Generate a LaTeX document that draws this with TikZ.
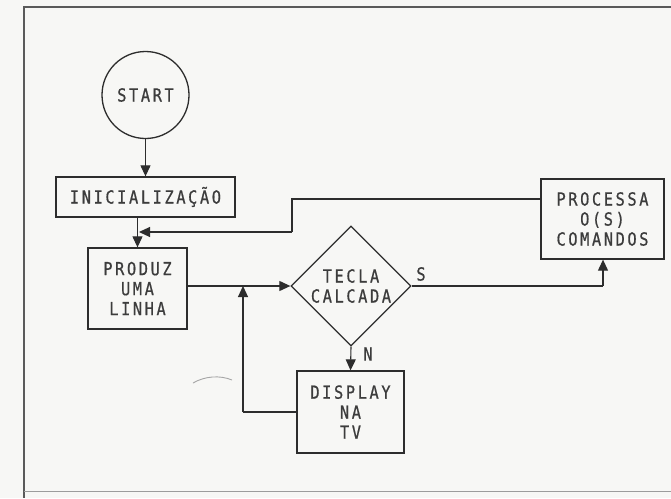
\documentclass[tikz,border=0pt]{standalone}
\usepackage{fontspec}
\setmainfont{DejaVu Sans Mono}[FakeStretch=0.85, LetterSpace=14.5, FakeBold=0.7]
\usetikzlibrary{shapes.geometric,arrows.meta}
\definecolor{bgc}{RGB}{247,247,245}
\definecolor{lc}{RGB}{45,45,45}
\definecolor{tc}{RGB}{60,60,60}
\definecolor{fc}{RGB}{90,90,90}
\tikzset{
  lbl/.style={font=\fontsize{18}{20}\selectfont, text=tc, inner sep=0pt, align=center},
  stepbox/.style={lbl, draw=lc, line width=1.3pt},
  arr/.style={draw=lc, line width=1.1pt, -{Triangle[length=11pt,width=10pt]}},
  plain/.style={draw=lc, line width=1.1pt},
}
\begin{document}
\begin{tikzpicture}[x=1pt,y=-1pt]
\useasboundingbox (0,0) rectangle (671,498);
\fill[bgc] (0,0) rectangle (671,498);
% frame
\draw[fc, line width=1.4pt] (671,7) -- (24,7) -- (24,498);
\draw[fc!60, line width=0.8pt] (24,491) -- (671,491);
% nodes
\node[stepbox, circle, minimum size=87pt] (start) at (145.5,95) {START};
\node[stepbox, minimum width=179pt, minimum height=40pt] (inic) at (145.5,197) {INICIALIZAÇÃO};
\node[stepbox, minimum width=99pt, minimum height=81pt] (produz) at (137.5,288.5) {PRODUZ\\UMA\\LINHA};
\node[stepbox, diamond, aspect=1, minimum width=120pt, minimum height=120pt] (dia) at (351,286) {TECLA\\CALCADA};
\node[stepbox, minimum width=123pt, minimum height=80pt] (proc) at (602.5,219) {PROCESSA\\O(S)\\COMANDOS};
\node[stepbox, minimum width=107pt, minimum height=82pt] (disp) at (350.5,412) {DISPLAY\\NA\\TV};
\node[lbl] (slbl) at (421,274) {S};
\node[lbl] (nlbl) at (368,354) {N};
% junction coordinates
\coordinate (jin) at (139,232);
\coordinate (rt) at (292,199);
\coordinate (rb) at (292,232);
\coordinate (jm) at (243,286);
\coordinate (dl) at (243,412);
\coordinate (pc) at (603,286);
% connectors
\draw[arr] (start) -- (inic);
\draw[arr] (inic.south -| produz.north) -- (produz.north);
\draw[plain] ([yshift=20pt]proc.west) -- (rt) -- (rb);
\draw[arr] (rb) -- (jin);
\draw[arr] (produz.east |- dia.west) -- (dia.west);
\draw[plain] (dia.east) -- (pc);
\draw[arr] (pc) -- (pc |- proc.south);
\draw[arr] (dia.south) -- (disp.north);
\draw[plain] (disp.west) -- (dl);
\draw[arr] (dl) -- (jm);
% stray pen mark
\draw[gray!70, line width=0.9pt] (193,383) .. controls (205,376) and (220,375) .. (232,380);
\end{tikzpicture}
\end{document}
